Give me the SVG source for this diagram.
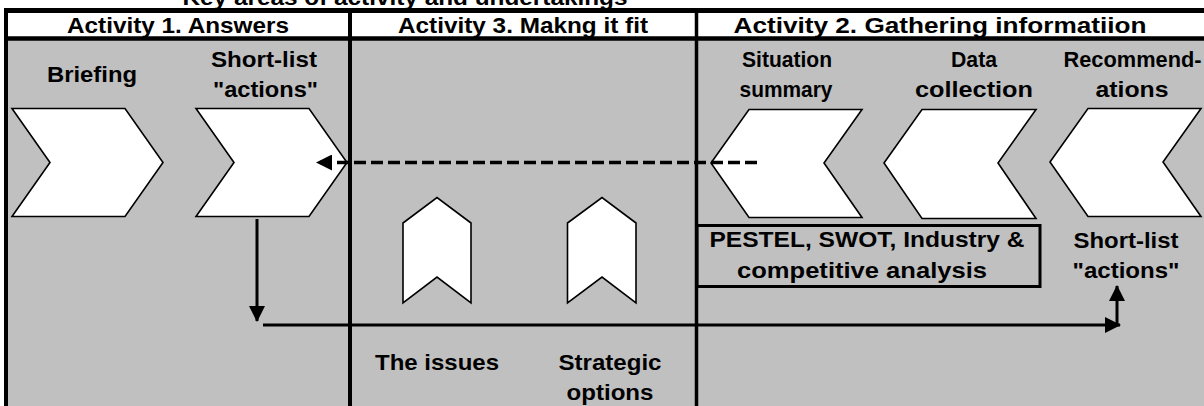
<svg xmlns="http://www.w3.org/2000/svg" width="1204" height="406" viewBox="0 0 1204 406">
  <style>
    text { font-family: "Liberation Sans", Arial, sans-serif; font-weight: bold; font-size: 22px; fill: #000; text-anchor: middle; }
    .frame { stroke: #000; fill: none; }
    .chev { fill: #fff; stroke: #000; stroke-width: 1.6; stroke-linejoin: miter; }
    .conn { fill: none; stroke: #000; stroke-width: 3; }
    .dash { stroke-dasharray: 12 5; stroke-width: 3.5; }
  </style>
  <defs>
    <marker id="head" viewBox="0 0 16 16" refX="15" refY="8" markerWidth="16" markerHeight="16" markerUnits="userSpaceOnUse" orient="auto">
      <path d="M0,0 L16,8 L0,16 Z" fill="#000"/>
    </marker>
  </defs>

  <rect width="1204" height="406" fill="#fff"/>

  <!-- page title, partly above the top edge -->
  <text x="405" y="5" textLength="445" lengthAdjust="spacingAndGlyphs">Key areas of activity and undertakings</text>

  <!-- table body and header -->
  <rect x="6" y="38" width="1198" height="368" fill="#c0c0c0"/>
  <rect x="6" y="10" width="1198" height="28" fill="#fff"/>
  <g class="frame">
    <line x1="4" y1="10.5" x2="1204" y2="10.5" stroke-width="5"/>
    <line x1="4" y1="38.5" x2="1204" y2="38.5" stroke-width="4.5"/>
    <line x1="6" y1="8" x2="6" y2="406" stroke-width="4"/>
    <line x1="350" y1="10" x2="350" y2="406" stroke-width="4"/>
    <line x1="696.5" y1="10" x2="696.5" y2="406" stroke-width="3.5"/>
  </g>

  <!-- column headers -->
  <g id="header-activity1"><text x="178" y="33" textLength="222" lengthAdjust="spacingAndGlyphs">Activity 1. Answers</text></g>
  <g id="header-activity3"><text x="523" y="33" textLength="250" lengthAdjust="spacingAndGlyphs">Activity 3. Makng it fit</text></g>
  <g id="header-activity2"><text x="940" y="33" textLength="413" lengthAdjust="spacingAndGlyphs">Activity 2. Gathering informatiion</text></g>

  <!-- Activity 1 stages -->
  <g id="briefing">
    <text x="92" y="82" textLength="90" lengthAdjust="spacingAndGlyphs">Briefing</text>
    <polygon class="chev" points="12,108.5 125,108.5 163,162.5 125,216.5 12,216.5 50,162.5"/>
  </g>
  <g id="shortlist-actions">
    <text x="264" y="67" textLength="106" lengthAdjust="spacingAndGlyphs">Short-list</text>
    <text x="265.5" y="97" textLength="105" lengthAdjust="spacingAndGlyphs">"actions"</text>
    <polygon class="chev" points="196,108.5 309,108.5 347,162.5 309,216.5 196,216.5 234,162.5"/>
  </g>

  <!-- Activity 3 stages -->
  <g id="the-issues">
    <polygon class="chev" points="403,303 403,223 437,197.5 471,223 471,303 437,277"/>
    <text x="437" y="370" textLength="124" lengthAdjust="spacingAndGlyphs">The issues</text>
  </g>
  <g id="strategic-options">
    <polygon class="chev" points="567.5,303 567.5,223 602,197.5 636,223 636,303 602,277"/>
    <text x="610" y="370" textLength="103" lengthAdjust="spacingAndGlyphs">Strategic</text>
    <text x="610" y="400" textLength="87" lengthAdjust="spacingAndGlyphs">options</text>
  </g>

  <!-- Activity 2 stages -->
  <g id="situation-summary">
    <text x="787" y="67" textLength="90" lengthAdjust="spacingAndGlyphs">Situation</text>
    <text x="786" y="97" textLength="93" lengthAdjust="spacingAndGlyphs">summary</text>
    <polygon class="chev" points="711,163 749,109.5 862,109.5 824,163 862,217.5 749,217.5"/>
  </g>
  <g id="data-collection">
    <text x="974" y="67" textLength="46" lengthAdjust="spacingAndGlyphs">Data</text>
    <text x="974" y="97" textLength="118" lengthAdjust="spacingAndGlyphs">collection</text>
    <polygon class="chev" points="884,163 922,109.5 1036,109.5 998,163 1036,218.5 922,218.5"/>
  </g>
  <g id="recommendations">
    <text x="1132.5" y="67" textLength="138" lengthAdjust="spacingAndGlyphs">Recommend-</text>
    <text x="1132" y="97" textLength="73" lengthAdjust="spacingAndGlyphs">ations</text>
    <polygon class="chev" points="1050,162 1088,108.5 1201,108.5 1163,162 1201,216.5 1088,216.5"/>
  </g>
  <g id="analysis-box">
    <rect x="697" y="225.5" width="343" height="61" fill="none" stroke="#000" stroke-width="3"/>
    <text x="867" y="247" textLength="315" lengthAdjust="spacingAndGlyphs">PESTEL, SWOT, Industry &amp;</text>
    <text x="862" y="278" textLength="250" lengthAdjust="spacingAndGlyphs">competitive analysis</text>
  </g>
  <g id="shortlist-result">
    <text x="1126" y="248" textLength="105" lengthAdjust="spacingAndGlyphs">Short-list</text>
    <text x="1126" y="278" textLength="107" lengthAdjust="spacingAndGlyphs">"actions"</text>
  </g>

  <!-- connectors -->
  <g id="connectors">
    <line class="conn dash" x1="757" y1="162.5" x2="317" y2="162.5" marker-end="url(#head)"/>
    <line class="conn" x1="257" y1="219" x2="257" y2="321" marker-end="url(#head)"/>
    <line class="conn" x1="263" y1="325" x2="1120" y2="325" marker-end="url(#head)"/>
    <line class="conn" x1="1117" y1="326" x2="1117" y2="286" marker-end="url(#head)"/>
  </g>
</svg>
